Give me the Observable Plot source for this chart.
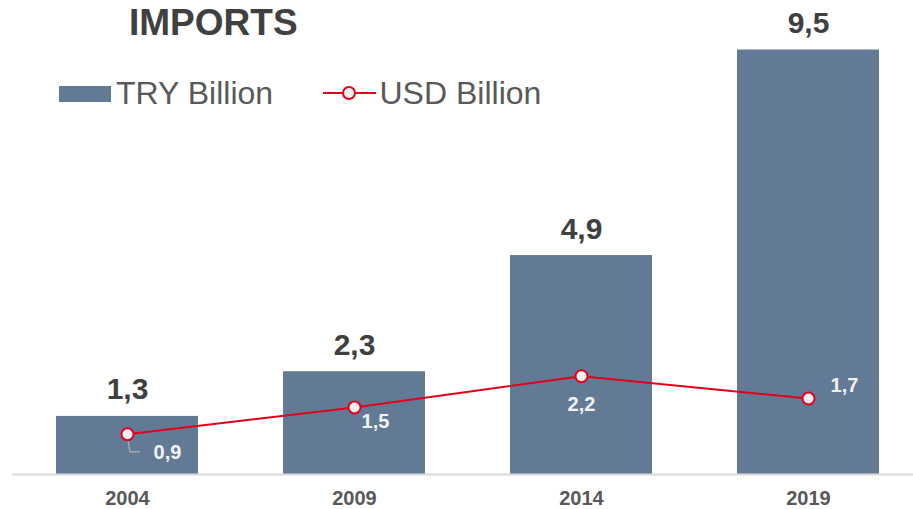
<!DOCTYPE html>
<html>
<head>
<meta charset="utf-8">
<script src="https://cdn.jsdelivr.net/npm/d3@7"></script>
<script src="https://cdn.jsdelivr.net/npm/@observablehq/plot@0.6"></script>
<style>
  html, body { margin: 0; padding: 0; background: #ffffff; }
  #wrap { position: relative; width: 913px; height: 509px; overflow: hidden; font-family: "Liberation Sans", Arial, sans-serif; }
  #chart { position: absolute; left: 0; top: 0; }
  .title { position: absolute; left: 129px; top: 3.7px; font-size: 37px; line-height: 1; font-weight: bold; color: #404040; white-space: nowrap; }
  .leg-text { position: absolute; top: 77px; font-size: 32px; line-height: 1; color: #595959; white-space: nowrap; }
  .swatch { position: absolute; left: 59px; top: 86px; width: 52px; height: 16px; background: #637A97; }
  .usd-key { position: absolute; left: 320px; top: 84px; }
</style>
</head>
<body>
<div id="wrap">
  <div id="chart"></div>
  <div class="title">IMPORTS</div>
  <div class="swatch"></div>
  <div class="leg-text" style="left:116px">TRY Billion</div>
  <svg class="usd-key" width="60" height="18">
    <line x1="3" y1="9" x2="56" y2="9" stroke="#E3001B" stroke-width="2"></line>
    <circle cx="29" cy="9" r="6" fill="#F2F2F2" stroke="#E3001B" stroke-width="2"></circle>
  </svg>
  <div class="leg-text" style="left:379.5px">USD Billion</div>
</div>
<script>
const years = ["2004", "2009", "2014", "2019"];
const tryValues = [1.3, 2.3, 4.9, 9.5];
const usdValues = [0.9, 1.5, 2.2, 1.7];

// label offsets (pixels) for the USD point labels, per year
const usdLabelDx = [40, 21, 0, 36];
const usdLabelDy = [25, 21, 35, -7];

const fmt = v => v.toFixed(1).replace(".", ",");

const rows = years.map((year, i) => ({
  year,
  tryv: tryValues[i],
  usd: usdValues[i],
  tryLabel: fmt(tryValues[i]),
  usdLabel: fmt(usdValues[i])
}));

const barColor = "#637A97";
const red = "#E3001B";

// leader line for the first USD label (drawn relative to the scaled point)
function leader(index, scales) {
  const r = rows[0];
  const bw = typeof scales.x.bandwidth === "function" ? scales.x.bandwidth() / 2 : 0;
  const cx = scales.x(r.year) + bw;
  const cy = scales.y(r.usd);
  const path = d3.path();
  path.moveTo(cx + 1, cy + 6);
  path.lineTo(cx + 3, cy + 18);
  path.lineTo(cx + 13, cy + 18);
  const g = d3.create("svg:path")
    .attr("d", path.toString())
    .attr("fill", "none")
    .attr("stroke", "#A6A6A6")
    .attr("stroke-width", 1.5);
  return g.node();
}

const usdTextMarks = rows.map((r, i) => Plot.text([r], {
  x: "year", y: "usd", text: "usdLabel",
  dx: usdLabelDx[i], dy: usdLabelDy[i],
  lineAnchor: "bottom", textAnchor: "middle",
  fontSize: 20, fontWeight: "bold", fill: "#F2F2F2"
}));

const chart = Plot.plot({
  width: 913,
  height: 509,
  marginLeft: 12,
  marginRight: 0,
  marginTop: 0,
  marginBottom: 35,
  style: { fontFamily: "'Liberation Sans', Arial, sans-serif", background: "transparent", overflow: "visible" },
  x: { domain: years, paddingInner: 0.375, paddingOuter: 0.17, align: 0.56, label: null },
  y: { domain: [0, 9.5], range: [474, 49.5], axis: null },
  marks: [
    Plot.barY(rows, { x: "year", y: "tryv", fill: barColor }),
    Plot.ruleY([0], { stroke: "#D9D9D9", strokeWidth: 2 }),
    Plot.text(rows, {
      x: "year", y: "tryv", text: "tryLabel", dy: -17,
      lineAnchor: "bottom", fontSize: 30, fontWeight: "bold", fill: "#404040"
    }),
    leader,
    Plot.line(rows, { x: "year", y: "usd", stroke: red, strokeWidth: 2 }),
    Plot.dot(rows, { x: "year", y: "usd", r: 6, fill: "#F2F2F2", stroke: red, strokeWidth: 2 }),
    ...usdTextMarks,
    Plot.axisX({ tickSize: 0, tickPadding: 16, fontSize: 20, fontWeight: "bold", fill: "#595959", label: null })
  ]
});

document.getElementById("chart").appendChild(chart);
</script>
</body>
</html>
